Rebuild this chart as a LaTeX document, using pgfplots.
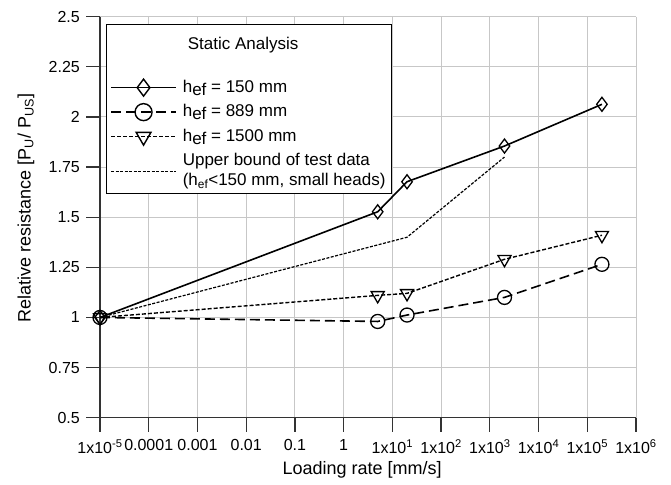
\documentclass[border=0pt]{standalone}
\usepackage{fontspec}
\setmainfont{Liberation Sans}
\usepackage{pgfplots}
\pgfplotsset{compat=1.18}

\begin{document}
\fontsize{18}{21}\selectfont
\begin{tikzpicture}
\begin{axis}[
    scale only axis, width=536pt, height=401pt,
    xmode=log, xmin=1e-5, xmax=1e6, ymin=0.5, ymax=2.5,
    axis lines=left, axis line style={-, line width=1.2pt, black!80},
    tick align=outside, major tick length=14pt,
    tick style={line width=1.2pt, black!80},
    tick label style={font=\fontsize{16}{19}\selectfont},
    xticklabel style={yshift=-1.5pt},
    xminorticks=false,
    xtick={1e-5,1e-4,1e-3,1e-2,1e-1,1,1e1,1e2,1e3,1e4,1e5,1e6},
    xticklabels={1x10\textsuperscript{-5},0.0001,0.001,0.01,0.1,1,1x10\textsuperscript{1},1x10\textsuperscript{2},1x10\textsuperscript{3},1x10\textsuperscript{4},1x10\textsuperscript{5},1x10\textsuperscript{6}},
    ytick={0.5,0.75,1,1.25,1.5,1.75,2,2.25,2.5},
    yticklabels={0.5,0.75,1,1.25,1.5,1.75,2,2.25,2.5},
    grid=major, major grid style={line width=1pt, black!22},
    clip=false,
    xlabel={Loading rate [mm/s]},
    ylabel={Relative resistance [P\textsubscript{U}/ P\textsubscript{US}]},
    xlabel style={at={(axis description cs:0.489,-0.13)}, anchor=center},
    ylabel style={at={(axis description cs:-0.138,0.523)}, anchor=center},
    legend image code/.code={\draw[mark repeat=2,mark phase=2] plot coordinates {(0pt,0pt) (32.5pt,0pt) (65pt,0pt)};},
    legend cell align=left,
    legend style={at={(axis description cs:0,1)}, anchor=north west, xshift=5.7pt, yshift=-7.6pt,
        draw=black, line width=1.2pt, fill=white, inner xsep=4pt, inner ysep=3pt,
        row sep=5.5pt, column sep=4pt, cells={align=left},
        font=\fontsize{17}{20}\selectfont},
]
\coordinate (sw) at (rel axis cs:0,0);
\coordinate (ne) at (rel axis cs:1,1);

% legend
\addlegendimage{empty legend}
\addlegendentry{\hspace{5pt}\raisebox{18pt}[\dimexpr\height+25.7pt][\depth]{Static Analysis}}
\addlegendimage{black, solid, line width=1.5pt, mark=diamond, mark size=8.5pt, mark options={solid, line width=1.4pt}}
\addlegendentry{h\raisebox{-0.3ex}{ef} = 150 mm}
\addlegendimage{black, dash pattern=on 10pt off 5pt, line width=1.5pt, mark=o, mark size=8.5pt, mark options={solid, line width=1.4pt}}
\addlegendentry{h\raisebox{-0.3ex}{ef} = 889 mm}
\addlegendimage{black, dash pattern=on 4pt off 2pt, line width=1.4pt, mark=triangle, mark size=8.5pt, mark options={solid, rotate=180, line width=1.4pt}}
\addlegendentry{h\raisebox{-0.3ex}{ef} = 1500 mm}
\addlegendimage{black, dash pattern=on 3pt off 1.5pt, line width=1.3pt}
\addlegendentry{Upper bound of test data\\(h\textsubscript{ef}<150 mm, small heads)}

% upper bound of test data
\addplot[forget plot, black, dash pattern=on 3pt off 1.5pt, line width=1.2pt] coordinates {
    (1e-5,1) (20,1.40) (2000,1.80)
};
% h_ef = 1500 mm
\addplot[forget plot, black, dash pattern=on 4pt off 2pt, line width=1.4pt, mark=triangle, mark size=7.5pt, mark options={solid, rotate=180, line width=1.3pt}] coordinates {
    (1e-5,1) (5,1.11) (20,1.12) (2000,1.29) (2e5,1.41)
};
% h_ef = 889 mm
\addplot[forget plot, black, dash pattern=on 10pt off 5pt, line width=1.6pt, mark=o, mark size=7pt, mark options={solid, line width=1.3pt}] coordinates {
    (1e-5,1) (5,0.98) (20,1.012) (2000,1.10) (2e5,1.265)
};
% h_ef = 150 mm
\addplot[forget plot, black, solid, line width=1.6pt, mark=diamond, mark size=7pt, mark options={solid, line width=1.3pt}] coordinates {
    (1e-5,1) (5,1.527) (20,1.677) (2000,1.855) (2e5,2.063)
};
\end{axis}
\path ([shift={(-100pt,-61.3pt)}]sw) rectangle ([shift={(35pt,16.7pt)}]ne);
\end{tikzpicture}
\end{document}
